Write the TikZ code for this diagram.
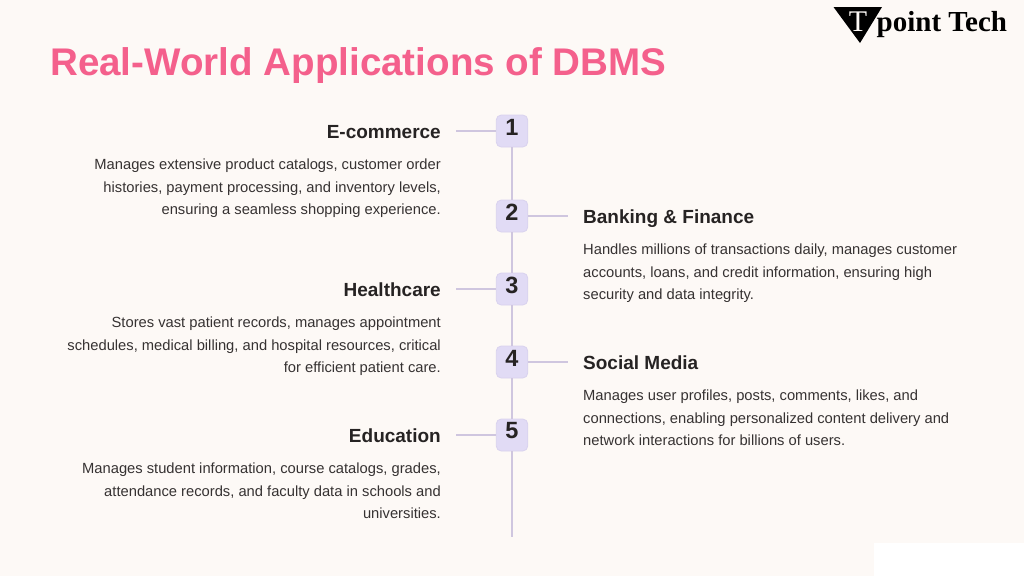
\documentclass[tikz,border=0pt]{standalone}
\usepackage{fontspec}
\setmainfont{Liberation Sans}
\newfontfamily\bodyf[WordSpace=1.0]{Liberation Sans}
\newfontfamily\logof{Liberation Serif}
\definecolor{bg}{HTML}{FDF9F6}
\definecolor{boxf}{HTML}{E1DBF5}
\definecolor{boxl}{HTML}{D9D2EE}
\definecolor{linec}{HTML}{CFC6DF}
\definecolor{ttl}{HTML}{F4608C}
\definecolor{ink}{HTML}{262323}
\definecolor{bodyink}{HTML}{363232}
\tikzset{
 numbox/.style={draw=boxl,line width=0.8pt,fill=boxf,rounded corners=5pt,minimum width=31.5pt,minimum height=32pt,inner sep=0pt},
 numtxt/.style={font=\fontsize{23.5}{23}\selectfont\bfseries,text=ink,inner sep=0pt},
 conn/.style={draw=linec,line width=1.5pt},
 headl/.style={font=\fontsize{19}{22}\selectfont\bfseries,text=ink,inner sep=0pt,anchor=base east},
 headr/.style={font=\fontsize{19}{22}\selectfont\bfseries,text=ink,inner sep=0pt,anchor=base west},
 bodyl/.style={font=\bodyf\fontsize{14.73}{22.3}\selectfont,text=bodyink,inner sep=0pt,anchor=north east,align=right},
 bodyr/.style={font=\bodyf\fontsize{14.73}{22.3}\selectfont,text=bodyink,inner sep=0pt,anchor=north west,align=left},
}
\begin{document}
\begin{tikzpicture}[x=1pt,y=-1pt]
\useasboundingbox (0,0) rectangle (1024,576);
\fill[bg] (0,0) rectangle (1024,576);
\fill[white] (874,543) rectangle (1024,576);
\node[font=\fontsize{38.55}{40}\selectfont\bfseries,text=ttl,anchor=base west,inner sep=0pt] (title) at (50,75) {Real-World Applications of DBMS};
% logo
\fill[black] (833.5,7) -- (882,7) -- (860,43) -- cycle;
\node[font=\logof\fontsize{30}{30}\selectfont,text=bg,inner sep=0pt,anchor=base] (logoT) at (858,31) {T};
\node[font=\logof\fontsize{29}{29}\selectfont\bfseries,text=black,inner sep=0pt,anchor=base west] (logot) at (876.5,31) {point Tech};
% spine
\coordinate (end) at (512,537);
\node[numbox] (n1) at (512,131) {};
\node[numbox] (n2) at (512,216) {};
\node[numbox] (n3) at (512,289) {};
\node[numbox] (n4) at (512,362) {};
\node[numbox] (n5) at (512,435) {};
\draw[conn] (n1) -- (n2);
\draw[conn] (n2) -- (n3);
\draw[conn] (n3) -- (n4);
\draw[conn] (n4) -- (n5);
\draw[conn] (n5) -- (end);
\node[numtxt] at (512,127) {1};
\node[numtxt] at (512,212) {2};
\node[numtxt] at (512,285) {3};
\node[numtxt] at (512,358) {4};
\node[numtxt] at (512,431) {5};
\node[headl] (h1) at (441,138) {E-commerce};
\node[headl] (h3) at (441,296) {Healthcare};
\node[headl] (h5) at (441,442) {Education};
\node[headr] (h2) at (583,223) {Banking \& Finance};
\node[headr] (h4) at (583,369) {Social Media};
\coordinate (c1) at (456,131);\coordinate (c3) at (456,289);\coordinate (c5) at (456,435);
\coordinate (c2) at (568,216);\coordinate (c4) at (568,362);
\draw[conn] (c1) -- (n1);
\draw[conn] (c3) -- (n3);
\draw[conn] (c5) -- (n5);
\draw[conn] (n2) -- (c2);
\draw[conn] (n4) -- (c4);
\node[bodyl] (b1) at (441,159) {Manages extensive product catalogs, customer order\\histories, payment processing, and inventory levels,\\ensuring a seamless shopping experience.};
\node[bodyl] (b3) at (441,317) {Stores vast patient records, manages appointment\\schedules, medical billing, and hospital resources, critical\\for efficient patient care.};
\node[bodyl] (b5) at (441,463) {Manages student information, course catalogs, grades,\\attendance records, and faculty data in schools and\\universities.};
\node[bodyr] (b2) at (583,244) {Handles millions of transactions daily, manages customer\\accounts, loans, and credit information, ensuring high\\security and data integrity.};
\node[bodyr] (b4) at (583,390) {Manages user profiles, posts, comments, likes, and\\connections, enabling personalized content delivery and\\network interactions for billions of users.};
\end{tikzpicture}
\end{document}
